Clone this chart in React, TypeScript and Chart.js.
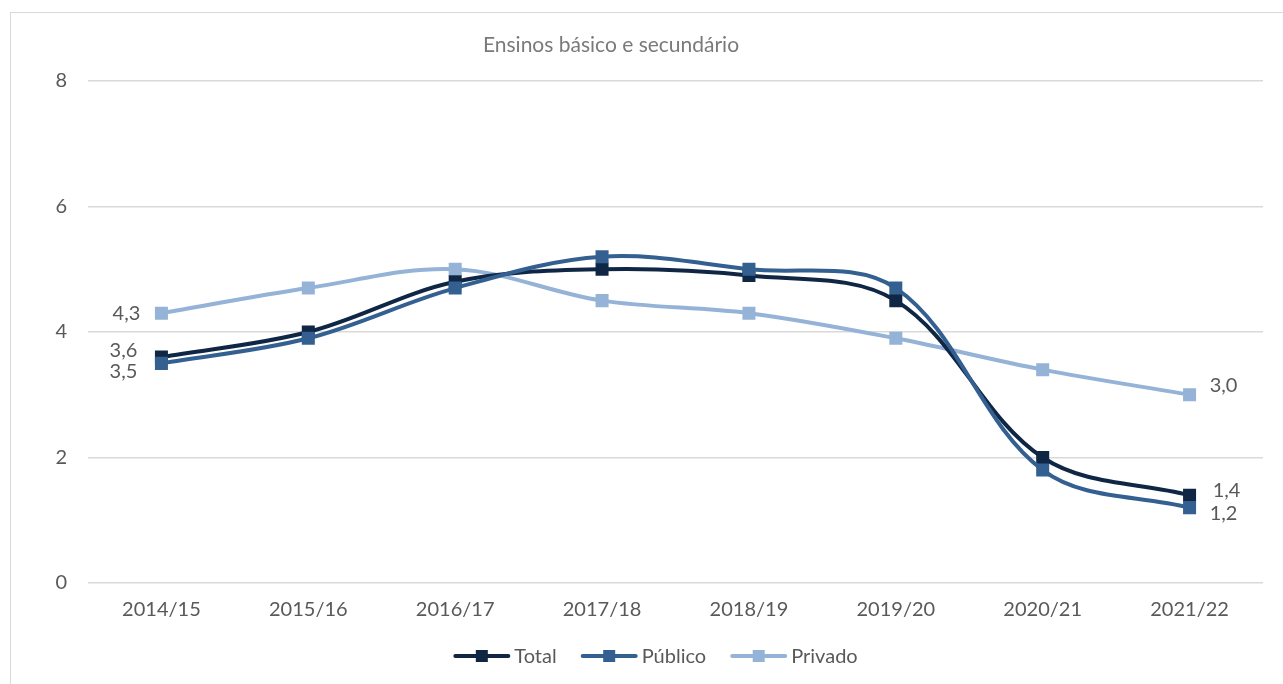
import React, { useEffect, useRef } from "react";
import { Chart, registerables } from "chart.js";

Chart.register(...registerables);

const categories = ["2014/15", "2015/16", "2016/17", "2017/18", "2018/19", "2019/20", "2020/21", "2021/22"];
const totalValues = [3.6, 4.0, 4.8, 5.0, 4.9, 4.5, 2.0, 1.4];
const publicoValues = [3.5, 3.9, 4.7, 5.2, 5.0, 4.7, 1.8, 1.2];
const privadoValues = [4.3, 4.7, 5.0, 4.5, 4.3, 3.9, 3.4, 3.0];
const yTicks = [0, 2, 4, 6, 8];
const titleText = "Ensinos básico e secundário";

const FONT = "Lato, 'Open Sans', sans-serif";
const C_TOTAL = "#0f2744";
const C_PUB = "#345f91";
const C_PRIV = "#95b3d7";

// label offsets [dx, dy] for first/last point (style, not data)
const labelStyle: Record<string, { first: [number, number]; last: [number, number] }> = {
  Total: { first: [-38, -7], last: [37, -5] },
  "Público": { first: [-38, 8], last: [34, 6] },
  Privado: { first: [-35, 0], last: [34, -9] },
};

export default function App() {
  const ref = useRef<HTMLCanvasElement>(null);

  useEffect(() => {
    document.body.style.margin = "0";
    document.body.style.overflow = "hidden";
    const canvas = ref.current!;

    const overlay = {
      id: "overlay",
      afterDatasetsDraw(chart: any) {
        const ctx = chart.ctx;
        ctx.save();
        // title
        ctx.font = `21px ${FONT}`;
        ctx.fillStyle = "#7a7a7a";
        ctx.textAlign = "center";
        ctx.textBaseline = "middle";
        ctx.fillText(titleText, 611, 45);
        // data labels
        ctx.font = `20px ${FONT}`;
        ctx.fillStyle = "#595959";
        chart.data.datasets.forEach((ds: any, i: number) => {
          const meta = chart.getDatasetMeta(i);
          const st = labelStyle[ds.label];
          if (!st) return;
          const pts = meta.data;
          const fmt = (v: number) => v.toFixed(1).replace(".", ",");
          const p0 = pts[0];
          const pl = pts[pts.length - 1];
          ctx.textAlign = "left";
          const t0 = fmt(ds.data[0]);
          const w0 = ctx.measureText(t0).width;
          ctx.fillText(t0, p0.x + st.first[0] - w0 / 2, p0.y + st.first[1]);
          const t1 = fmt(ds.data[ds.data.length - 1]);
          const w1 = ctx.measureText(t1).width;
          ctx.fillText(t1, pl.x + st.last[0] - w1 / 2, pl.y + st.last[1]);
        });
        // legend
        ctx.font = `20px ${FONT}`;
        ctx.textAlign = "left";
        const items = [
          { label: "Total", color: C_TOTAL },
          { label: "Público", color: C_PUB },
          { label: "Privado", color: C_PRIV },
        ];
        const lineW = 55, gapT = 5, gapI = 25;
        const widths = items.map((it) => lineW + gapT + ctx.measureText(it.label).width);
        const total = widths.reduce((a, b) => a + b, 0) + gapI * (items.length - 1);
        let x = 656 - total / 2;
        const y = 656;
        items.forEach((it, k) => {
          ctx.strokeStyle = it.color;
          ctx.lineWidth = 4;
          ctx.lineCap = "round";
          ctx.beginPath();
          ctx.moveTo(x + 1, y);
          ctx.lineTo(x + lineW - 1, y);
          ctx.stroke();
          ctx.fillStyle = it.color;
          ctx.fillRect(x + lineW / 2 - 6, y - 6, 12, 12);
          ctx.fillStyle = "#595959";
          ctx.fillText(it.label, x + lineW + gapT, y + 1);
          x += widths[k] + gapI;
        });
        ctx.restore();
      },
    };

    const mkDs = (label: string, data: number[], color: string, order: number) => ({
      label,
      data,
      borderColor: color,
      backgroundColor: color,
      borderWidth: 4,
      pointStyle: "rect",
      pointRadius: 9.2,
      pointHoverRadius: 9.2,
      pointBorderWidth: 0,
      tension: 0.35,
      order,
    });

    const chart = new Chart(canvas, {
      type: "line",
      data: {
        labels: categories,
        datasets: [
          mkDs("Público", publicoValues, C_PUB, 0),
          mkDs("Total", totalValues, C_TOTAL, 1),
          mkDs("Privado", privadoValues, C_PRIV, 2),
        ],
      },
      options: {
        animation: false,
        responsive: false,
        layout: { padding: { top: 81, bottom: 61, left: 0, right: 20 } },
        plugins: { legend: { display: false }, title: { display: false }, tooltip: { enabled: false } },
        scales: {
          x: {
            type: "category",
            offset: true,
            grid: { display: false, drawTicks: false },
            border: { display: false },
            ticks: { color: "#595959", font: { family: FONT, size: 20 }, padding: 15, maxRotation: 0 },
            afterFit: (s: any) => { s.height = 40; },
          },
          y: {
            min: 0,
            max: 8,
            afterBuildTicks: (s: any) => { s.ticks = yTicks.map((v) => ({ value: v })); },
            grid: { color: "#d9d9d9", lineWidth: 1.5, drawTicks: false },
            border: { display: false },
            ticks: { color: "#595959", font: { family: FONT, size: 20 }, padding: 21 },
            afterFit: (s: any) => { s.width = 88; },
          },
        },
      },
      plugins: [overlay],
    } as any);

    return () => chart.destroy();
  }, []);

  return (
    <div style={{ position: "relative", width: 1283, height: 684, overflow: "hidden", background: "#fff" }}>
      <div style={{ position: "absolute", left: 10, top: 12, width: 1300, height: 700, border: "1px solid #d9d9d9", boxSizing: "border-box" }} />
      <canvas ref={ref} width={1283} height={684} style={{ position: "absolute", left: 0, top: 0, width: 1283, height: 684 }} />
    </div>
  );
}
